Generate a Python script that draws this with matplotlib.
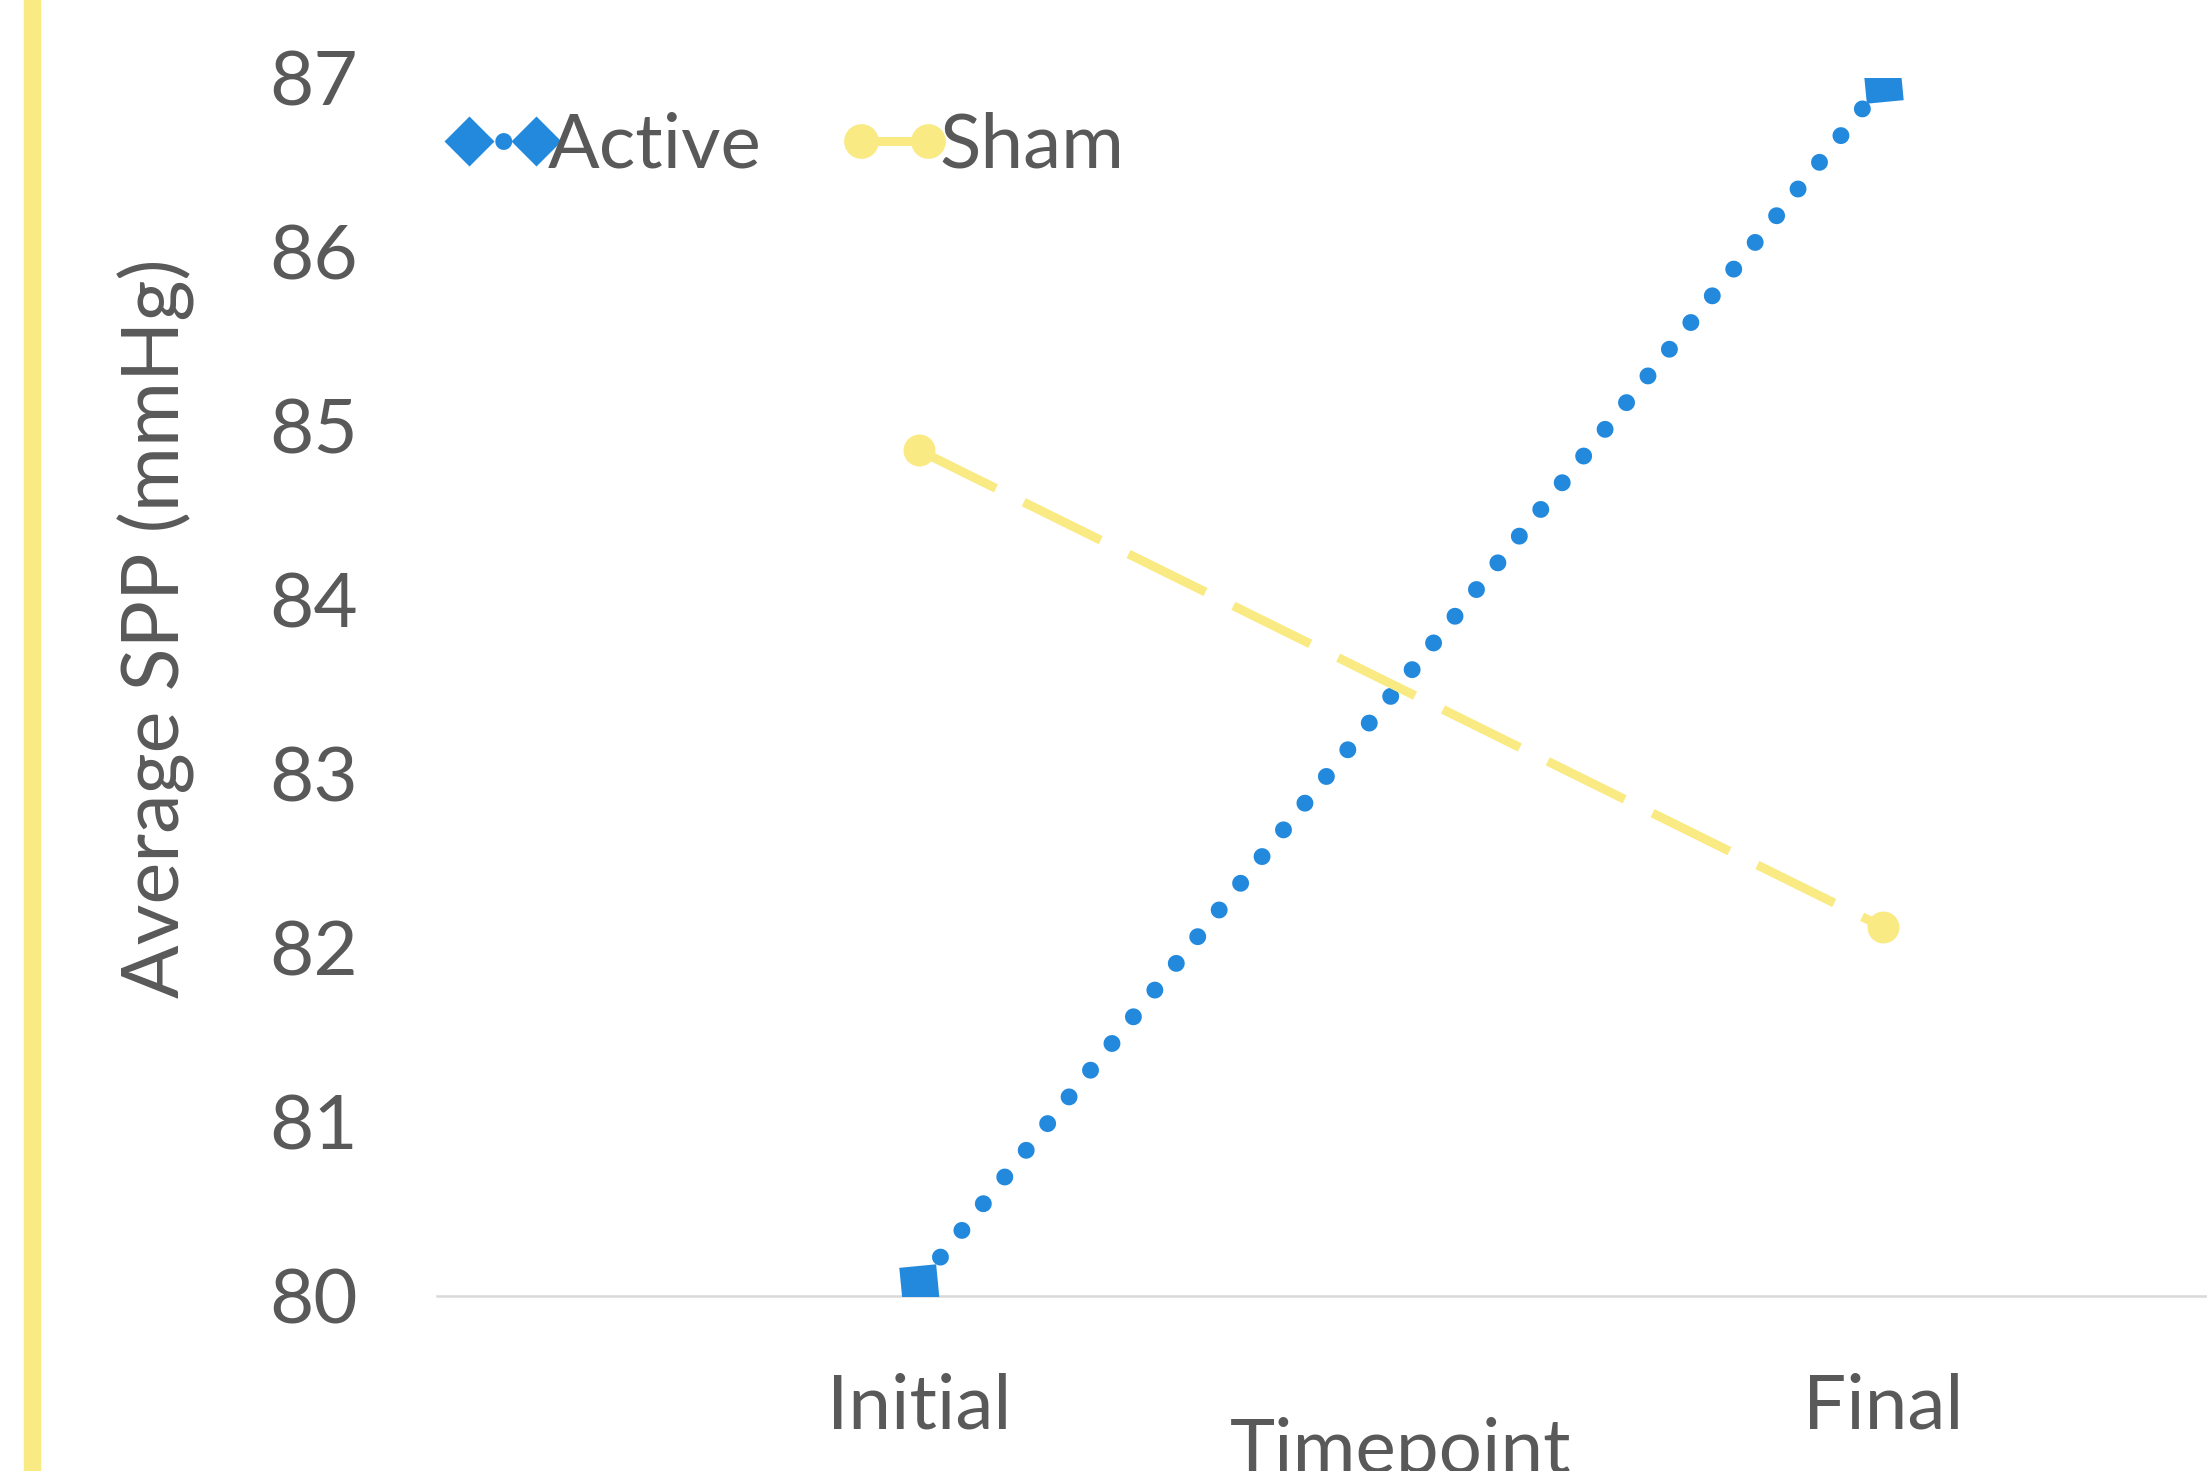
import matplotlib.pyplot as plt
from matplotlib.lines import Line2D
from matplotlib.patches import Rectangle
from matplotlib.legend_handler import HandlerLine2D

plt.rcParams['font.family'] = ['Lato', 'DejaVu Sans']

timepoints = ['Initial', 'Final']
active = [80.07, 86.97]
sham = [84.86, 82.12]
yticks = [80, 81, 82, 83, 84, 85, 86, 87]

BLUE = '#2389DD'
YELLOW = '#F9EA83'
GREY_TXT = '#595959'

W, H = 2207, 1471
fig = plt.figure(figsize=(W / 100, H / 100), dpi=100)

# plot area runs off the right edge, like the cropped original
ax = fig.add_axes([437 / W, 175 / H, 1928 / W, 1218 / H])

x = range(len(timepoints))
ax.plot(x, active, color=BLUE, lw=12.2, dashes=(0.001, 2.02),
        dash_capstyle='round', marker=(4, 0, 50.5), markersize=37.7,
        markeredgewidth=0, zorder=3)
ax.plot(x, sham, color=YELLOW, lw=6.5, dashes=(9.5, 3.45),
        dash_capstyle='butt', marker='o', markersize=23,
        markeredgewidth=0, zorder=4)

ax.set_xlim(-0.5, 1.5)
ax.set_ylim(80, 87)
ax.set_xticks(list(x))
ax.set_xticklabels(timepoints)
ax.set_yticks(yticks)
ax.tick_params(length=0, labelsize=55, labelcolor=GREY_TXT)
ax.tick_params(axis='y', pad=57)
ax.tick_params(axis='x', pad=55)

for s in ['top', 'right', 'left']:
    ax.spines[s].set_visible(False)
ax.spines['bottom'].set_color('#D9D9D9')
ax.spines['bottom'].set_linewidth(1.8)

ax.set_xlabel('Timepoint', fontsize=55, color=GREY_TXT)
ax.xaxis.set_label_coords(0.5, -0.0993)

fig.text(156 / W, 1 - 628 / H, 'Average SPP (mmHg)', rotation=90,
         ha='center', va='center', fontsize=57, color=GREY_TXT)

# legend handles
h_active = Line2D([], [], color=BLUE, lw=12.2, dashes=(0.001, 2.02),
                  dash_capstyle='round', marker=(4, 0, 0), markersize=36,
                  markeredgewidth=0)
h_sham = Line2D([], [], color=YELLOW, lw=6.5, marker='o', markersize=25,
                markeredgewidth=0)
ax.legend([h_active, h_sham], ['Active', 'Sham'], ncol=2, frameon=False,
          fontsize=55, labelcolor=GREY_TXT, loc='center left',
          bbox_to_anchor=(469 / W, 1 - 146 / H), bbox_transform=fig.transFigure,
          borderpad=0, borderaxespad=0, handlelength=0.877, handletextpad=0.15,
          columnspacing=1.3,
          handler_map={Line2D: HandlerLine2D(marker_pad=0, numpoints=2)})

# yellow bar down the left side
fig.patches.append(Rectangle((24 / W, 0), 16 / W, 1, transform=fig.transFigure,
                             color=YELLOW, zorder=0))

fig.savefig('out.png', dpi=100)
